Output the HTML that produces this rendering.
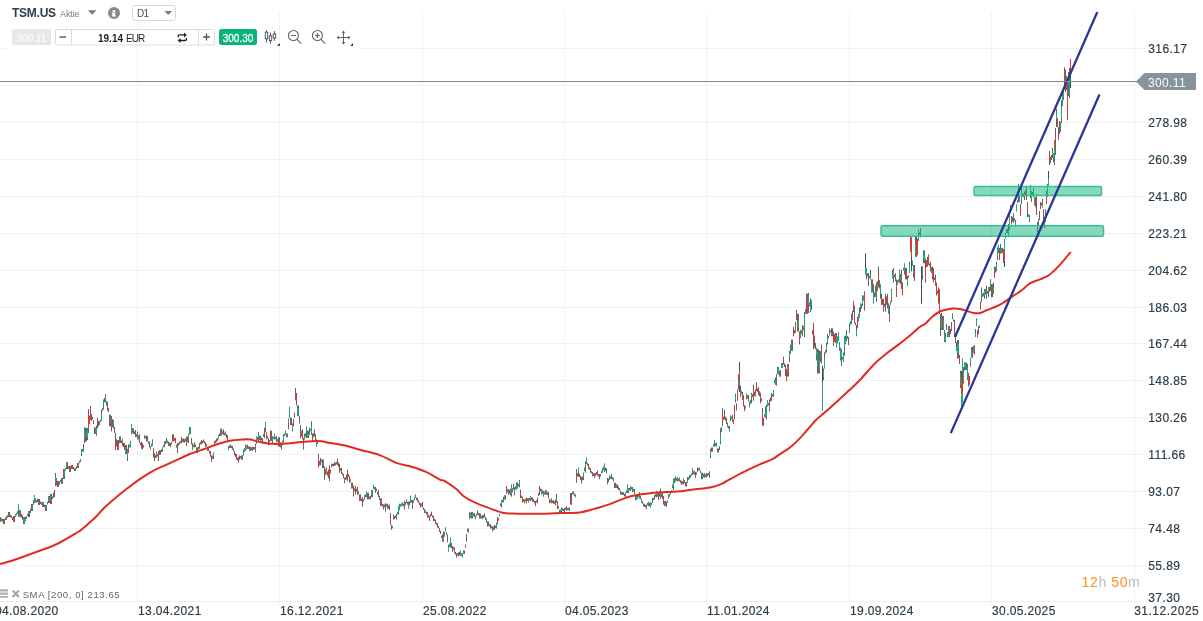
<!DOCTYPE html>
<html><head><meta charset="utf-8"><title>TSM.US</title>
<style>
html,body{margin:0;padding:0;background:#fff;}
body{width:1203px;height:621px;position:relative;overflow:hidden;font-family:"Liberation Sans",sans-serif;color:#2d3e4a;}
#chart{position:absolute;left:0;top:0;}
.yl{position:absolute;left:1148.3px;font-size:12px;line-height:15px;letter-spacing:0.4px;color:#2d3e4a;white-space:nowrap;-webkit-text-stroke:0.2px #2d3e4a;}
.xl{position:absolute;top:604px;font-size:12px;line-height:15px;letter-spacing:0.35px;color:#2d3e4a;white-space:nowrap;-webkit-text-stroke:0.2px #2d3e4a;}
.tag{position:absolute;left:1148px;top:76.2px;font-size:12px;line-height:15px;letter-spacing:0.35px;color:#fff;}
.abs{position:absolute;white-space:nowrap;}
</style></head><body>
<svg id="chart" width="1203" height="621" viewBox="0 0 1203 621" shape-rendering="auto">
<defs><clipPath id="cc"><rect x="0" y="12" width="1134" height="589"/></clipPath></defs>
<path d="M0 48.5H6M360 48.5H1146" stroke="#f1f2f4"/>
<path d="M0 85.5H1146" stroke="#f1f2f4"/>
<path d="M0 122.5H1146" stroke="#f1f2f4"/>
<path d="M0 159.5H1146" stroke="#f1f2f4"/>
<path d="M0 196.5H1146" stroke="#f1f2f4"/>
<path d="M0 233.5H1146" stroke="#f1f2f4"/>
<path d="M0 270.5H1146" stroke="#f1f2f4"/>
<path d="M0 307.5H1146" stroke="#f1f2f4"/>
<path d="M0 343.5H1146" stroke="#f1f2f4"/>
<path d="M0 380.5H1146" stroke="#f1f2f4"/>
<path d="M0 417.5H1146" stroke="#f1f2f4"/>
<path d="M0 454.5H1146" stroke="#f1f2f4"/>
<path d="M0 491.5H1146" stroke="#f1f2f4"/>
<path d="M0 528.5H1146" stroke="#f1f2f4"/>
<path d="M0 565.5H1146" stroke="#f1f2f4"/>
<path d="M137.5 12V605" stroke="#f1f2f4"/>
<path d="M279.5 12V605" stroke="#f1f2f4"/>
<path d="M422.5 12V605" stroke="#f1f2f4"/>
<path d="M564.5 12V605" stroke="#f1f2f4"/>
<path d="M706.5 12V605" stroke="#f1f2f4"/>
<path d="M849.5 12V605" stroke="#f1f2f4"/>
<path d="M991.5 12V605" stroke="#f1f2f4"/>
<path d="M1134.5 12V605" stroke="#f1f2f4"/>
<path d="M0 601.5H1140" stroke="#eceff1"/>
<path d="M0.5 517.0V522.0M1.5 518.4V521.0M2.5 518.8V521.8M3.5 519.0V524.0M4.5 519.0V524.0M5.5 517.5V520.0M6.5 516.3V519.7M7.5 515.3V517.8M8.5 512.0V517.0M9.5 512.0V517.0M10.5 514.8V517.3M11.5 515.6V518.1M12.5 517.5V520.0M13.5 516.0V522.0M14.5 516.0V522.0M15.5 514.0V516.9M16.5 512.8V515.3M17.5 511.3V513.8M18.5 504.0V517.0M19.5 510.0V516.2M20.5 510.4V517.3M21.5 514.0V517.4M22.5 515.4V519.6M23.5 517.0V524.0M24.5 517.0V524.0M25.5 516.7V521.2M26.5 516.3V518.8M27.5 513.5V516.0M28.5 511.0V517.0M29.5 511.0V517.0M30.5 508.8V512.9M31.5 504.0V511.0M32.5 504.0V511.0M33.5 499.9V504.6M34.5 495.0V503.0M35.5 498.3V502.4M36.5 500.1V502.7M37.5 498.8V502.0M38.5 499.0V505.0M39.5 499.0V505.0M40.5 501.4V503.9M41.5 502.4V504.9M42.5 502.0V507.0M43.5 502.0V507.0M44.5 504.5V507.0M45.5 505.0V511.0M46.5 505.0V511.0M47.5 501.7V504.5M48.5 496.0V503.0M49.5 496.0V503.0M50.5 494.0V504.0M51.5 494.0V504.0M52.5 496.5V499.0M53.5 492.5V497.8M54.5 490.0V497.0M55.5 473.0V486.0M56.5 478.1V485.4M57.5 481.0V487.0M58.5 481.0V487.0M59.5 481.3V484.6M60.5 479.8V482.3M61.5 478.0V484.0M62.5 478.0V484.0M63.5 469.0V479.0M64.5 469.0V479.0M65.5 468.0V470.5M66.5 462.0V469.0M67.5 462.0V469.0M68.5 466.4V468.9M69.5 466.0V472.0M70.5 466.0V472.0M71.5 465.0V469.0M72.5 465.0V469.0M73.5 466.8V469.3M74.5 468.0V471.0M75.5 468.0V471.0M76.5 466.2V468.7M77.5 463.0V468.0M78.5 463.0V468.0M79.5 460.7V463.2M80.5 459.0V462.0M81.5 449.0V456.0M82.5 449.0V451.6M83.5 444.0V452.0M84.5 427.0V443.0M85.5 428.0V441.5M86.5 428.0V441.5M87.5 428.0V440.0M88.5 409.0V433.0M89.5 415.6V424.2M90.5 406.0V420.0M91.5 414.0V421.0M92.5 416.8V419.3M93.5 420.0V424.0M94.5 427.0V434.0M95.5 427.8V433.8M96.5 425.6V435.7M97.5 418.0V428.5M98.5 420.8V426.4M99.5 421.0V425.0M100.5 419.7V422.2M101.5 409.6V421.0M102.5 407.9V410.8M103.5 399.5V409.6M104.5 398.1V402.1M105.5 394.4V402.4M106.5 400.9V405.6M107.5 401.7V410.4M108.5 408.0V412.0M109.5 414.7V426.3M110.5 414.7V426.3M111.5 416.0V431.4M112.5 419.2V427.3M113.5 420.0V428.5M114.5 427.0V433.0M115.5 432.8V450.2M116.5 439.2V446.4M117.5 440.0V450.0M118.5 440.0V450.0M119.5 436.4V443.0M120.5 436.4V443.0M121.5 440.5V443.0M122.5 438.6V445.9M123.5 442.9V447.1M124.5 443.0V450.0M125.5 445.0V454.0M126.5 445.0V454.0M127.5 448.8V461.0M128.5 444.4V453.0M129.5 444.5V447.4M130.5 440.8V447.3M131.5 424.0V434.3M132.5 428.0V432.7M133.5 428.5V434.3M134.5 431.4V433.9M135.5 430.0V437.0M136.5 434.4V436.9M137.5 431.4V439.3M138.5 435.4V439.4M139.5 434.3V443.0M140.5 442.8V445.3M141.5 441.5V448.8M142.5 443.0V449.5M143.5 445.1V447.6M144.5 435.0V438.6M145.5 436.1V438.6M146.5 435.7V441.5M147.5 435.7V441.5M148.5 441.4V443.9M149.5 441.5V447.3M150.5 445.9V449.5M151.5 443.7V446.4M152.5 439.3V445.9M153.5 448.0V457.5M154.5 453.0V461.0M155.5 455.3V458.0M156.5 451.7V457.5M157.5 453.9V456.4M158.5 451.0V461.0M159.5 450.2V454.6M160.5 450.2V454.6M161.5 449.6V452.1M162.5 447.3V451.7M163.5 444.7V447.2M164.5 441.5V447.3M165.5 440.9V444.3M166.5 437.9V443.0M167.5 440.5V443.3M168.5 441.5V445.9M169.5 442.5V445.9M170.5 443.0V447.3M171.5 441.9V444.4M172.5 434.3V441.5M173.5 434.3V441.5M174.5 438.2V440.7M175.5 437.9V443.0M176.5 444.7V447.8M177.5 443.0V453.0M178.5 443.0V445.9M179.5 441.8V444.3M180.5 440.9V443.4M181.5 437.0V443.0M182.5 438.8V442.1M183.5 438.6V442.2M184.5 439.1V442.6M185.5 438.5V441.3M186.5 436.4V445.9M187.5 436.5V442.2M188.5 433.6V443.0M189.5 427.0V434.3M190.5 427.0V434.3M191.5 437.9V444.4M192.5 443.0V450.2M193.5 444.8V447.3M194.5 442.2V447.3M195.5 444.4V447.0M196.5 447.3V453.0M197.5 447.3V453.0M198.5 446.8V449.3M199.5 443.0V448.8M200.5 441.7V444.2M201.5 440.0V444.4M202.5 440.8V443.3M203.5 439.4V442.3M204.5 441.1V443.6M205.5 442.3V446.7M206.5 443.9V446.4M207.5 446.7V451.0M208.5 446.7V451.0M209.5 450.9V453.6M210.5 451.0V456.8M211.5 455.4V461.9M212.5 455.7V458.9M213.5 452.5V459.0M214.5 440.9V444.5M215.5 440.5V443.0M216.5 438.7V442.3M217.5 438.2V440.7M218.5 435.0V439.4M219.5 433.5V436.0M220.5 428.6V435.8M221.5 428.6V435.8M222.5 431.3V433.8M223.5 429.3V435.0M224.5 432.7V435.2M225.5 431.4V435.8M226.5 434.4V437.9M227.5 435.0V440.9M228.5 446.0V450.3M229.5 445.4V447.9M230.5 444.5V448.0M231.5 445.7V448.2M232.5 446.0V449.6M233.5 448.6V451.1M234.5 451.0V455.4M235.5 453.5V457.0M236.5 454.0V459.7M237.5 457.8V460.3M238.5 456.8V462.6M239.5 455.4V459.7M240.5 455.9V458.4M241.5 455.4V459.7M242.5 455.4V459.7M243.5 449.6V455.4M244.5 448.3V452.0M245.5 444.5V451.0M246.5 445.6V449.3M247.5 444.5V448.8M248.5 446.3V448.8M249.5 446.7V451.0M250.5 446.7V451.0M251.5 447.5V450.0M252.5 446.7V451.0M253.5 447.0V449.5M254.5 447.1V449.6M255.5 443.8V452.5M256.5 436.5V443.8M257.5 437.2V439.7M258.5 432.2V440.9M259.5 435.5V439.9M260.5 435.8V440.9M261.5 437.9V440.4M262.5 438.0V443.8M263.5 433.8V436.7M264.5 427.8V438.0M265.5 422.0V432.2M266.5 432.2V439.4M267.5 436.1V438.6M268.5 438.0V445.2M269.5 439.8V442.3M270.5 430.7V440.9M271.5 430.7V440.9M272.5 436.0V443.0M273.5 436.7V439.2M274.5 433.6V439.4M275.5 436.7V439.2M276.5 436.0V442.0M277.5 439.2V441.7M278.5 437.2V446.7M279.5 437.2V446.7M280.5 442.4V447.4M281.5 443.8V449.6M282.5 440.8V445.1M283.5 434.3V442.3M284.5 433.5V436.1M285.5 430.7V435.0M286.5 433.6V437.2M287.5 433.6V437.2M288.5 418.4V429.3M289.5 406.8V417.7M290.5 417.7V425.0M291.5 417.7V425.0M292.5 423.5V431.4M293.5 419.0V426.4M294.5 412.6V417.7M295.5 388.0V400.3M296.5 393.0V405.4M297.5 405.4V416.2M298.5 405.4V416.2M299.5 416.2V423.5M300.5 425.0V438.0M301.5 430.8V436.4M302.5 429.3V439.4M303.5 438.0V449.6M304.5 433.6V439.4M305.5 433.1V436.9M306.5 426.4V438.0M307.5 430.7V438.0M308.5 430.7V438.0M309.5 427.8V435.0M310.5 428.6V431.1M311.5 421.3V435.0M312.5 433.6V440.9M313.5 433.2V437.3M314.5 429.3V436.5M315.5 434.3V440.9M316.5 439.4V446.7M317.5 441.7V444.2M318.5 453.7V467.5M319.5 461.0V465.2M320.5 458.0V465.3M321.5 459.3V462.4M322.5 459.5V468.2M323.5 459.5V468.2M324.5 466.7V479.8M325.5 469.2V474.9M326.5 467.5V474.0M327.5 471.6V475.6M328.5 469.6V478.3M329.5 465.3V481.2M330.5 469.7V473.4M331.5 463.8V467.5M332.5 463.6V466.1M333.5 463.8V466.3M334.5 461.7V466.0M335.5 462.7V465.2M336.5 461.8V464.3M337.5 458.8V465.3M338.5 462.5V466.9M339.5 463.8V472.5M340.5 468.1V470.6M341.5 468.0V474.0M342.5 472.8V475.3M343.5 474.0V478.3M344.5 477.6V483.4M345.5 477.2V479.7M346.5 474.4V479.6M347.5 469.6V481.2M348.5 473.9V476.9M349.5 476.2V482.7M350.5 479.2V481.9M351.5 482.7V488.5M352.5 482.7V488.5M353.5 485.6V496.4M354.5 488.4V491.2M355.5 485.6V494.3M356.5 488.9V491.4M357.5 487.0V495.0M358.5 491.1V494.0M359.5 494.3V500.8M360.5 494.3V500.8M361.5 498.7V501.3M362.5 497.2V506.6M363.5 499.0V501.5M364.5 495.0V499.3M365.5 494.4V496.9M366.5 491.4V497.2M367.5 492.8V499.3M368.5 492.8V499.3M369.5 496.5V499.0M370.5 495.7V499.3M371.5 490.0V497.2M372.5 490.0V497.2M373.5 484.9V489.2M374.5 486.9V489.5M375.5 487.0V492.8M376.5 488.6V491.1M377.5 491.9V494.4M378.5 490.0V497.2M379.5 495.7V500.0M380.5 498.6V505.9M381.5 498.6V505.9M382.5 503.9V506.5M383.5 504.4V509.5M384.5 504.5V507.4M385.5 503.0V511.7M386.5 504.1V506.6M387.5 503.7V508.8M388.5 505.5V508.6M389.5 504.4V510.2M390.5 513.0V524.7M391.5 524.7V529.8M392.5 525.8V528.3M393.5 514.6V519.6M394.5 516.1V518.9M395.5 515.5V518.0M396.5 513.8V519.6M397.5 511.9V514.4M398.5 505.9V514.6M399.5 503.7V510.2M400.5 504.2V506.7M401.5 503.3V505.8M402.5 502.2V505.9M403.5 503.8V506.3M404.5 500.8V509.5M405.5 502.1V504.7M406.5 499.3V503.0M407.5 501.7V504.6M408.5 501.5V508.8M409.5 501.5V505.4M410.5 495.7V503.0M411.5 499.8V502.3M412.5 500.0V508.8M413.5 499.9V502.9M414.5 496.8V500.3M415.5 494.3V497.9M416.5 497.5V500.0M417.5 497.9V501.5M418.5 500.4V502.9M419.5 502.5V505.0M420.5 503.0V507.3M421.5 503.7V506.2M422.5 502.2V507.3M423.5 507.5V510.0M424.5 508.8V513.1M425.5 510.4V512.9M426.5 512.1V514.6M427.5 511.7V517.5M428.5 515.0V517.5M429.5 516.0V521.0M430.5 514.0V516.5M431.5 511.7V516.0M432.5 515.2V517.7M433.5 516.0V521.0M434.5 518.8V521.3M435.5 519.6V524.0M436.5 522.4V524.9M437.5 523.3V527.6M438.5 525.9V528.4M439.5 528.3V532.0M440.5 530.7V533.9M441.5 535.5V538.0M442.5 534.4V541.7M443.5 531.5V541.7M444.5 532.0V536.8M445.5 527.2V531.5M446.5 532.3V534.8M447.5 534.4V542.4M448.5 544.6V551.8M449.5 543.5V547.1M450.5 537.3V547.5M451.5 542.9V548.1M452.5 546.0V551.8M453.5 547.1V549.6M454.5 547.5V553.3M455.5 552.0V554.5M456.5 553.3V557.6M457.5 553.0V555.5M458.5 552.5V556.2M459.5 551.9V555.3M460.5 550.4V556.2M461.5 553.2V555.7M462.5 553.3V557.6M463.5 550.4V554.0M464.5 550.4V554.0M465.5 544.6V547.5M466.5 534.4V541.7M467.5 528.6V532.2M468.5 528.6V532.2M469.5 512.0V519.2M470.5 512.9V517.8M471.5 512.0V518.5M472.5 512.0V518.5M473.5 513.4V516.0M474.5 513.0V517.0M475.5 515.6V519.2M476.5 513.7V516.2M477.5 510.5V514.9M478.5 512.7V515.2M479.5 513.4V518.5M480.5 513.4V518.5M481.5 515.9V518.4M482.5 514.9V519.2M483.5 515.1V517.6M484.5 513.4V517.8M485.5 517.3V519.8M486.5 518.5V522.8M487.5 521.4V526.4M488.5 521.4V526.4M489.5 523.8V526.3M490.5 524.3V528.6M491.5 525.9V528.4M492.5 526.4V531.5M493.5 526.5V529.8M494.5 525.0V530.0M495.5 525.7V528.2M496.5 522.8V528.6M497.5 517.0V524.3M498.5 518.1V520.6M499.5 513.9V516.4M500.5 503.5V506.0M501.5 500.4V507.6M502.5 499.7V502.2M503.5 496.7V502.5M504.5 495.3V499.6M505.5 495.3V499.6M506.5 485.9V493.8M507.5 489.6V492.1M508.5 488.8V494.6M509.5 489.7V493.7M510.5 488.8V495.3M511.5 484.4V496.7M512.5 488.1V492.2M513.5 483.7V489.5M514.5 487.3V495.3M515.5 486.0V489.6M516.5 482.2V489.5M517.5 482.5V488.5M518.5 483.8V486.3M519.5 480.0V487.3M520.5 489.5V498.2M521.5 495.5V498.0M522.5 496.7V502.5M523.5 499.2V501.7M524.5 499.6V503.3M525.5 498.7V501.2M526.5 497.5V503.3M527.5 498.4V500.9M528.5 498.2V502.5M529.5 498.0V500.5M530.5 496.0V501.0M531.5 497.4V499.9M532.5 497.5V501.8M533.5 499.2V501.9M534.5 500.7V503.3M535.5 501.0V506.2M536.5 500.1V502.6M537.5 497.5V503.3M538.5 492.8V495.7M539.5 485.9V495.3M540.5 488.7V491.2M541.5 488.8V494.6M542.5 490.4V493.9M543.5 491.0V496.7M544.5 491.6V494.7M545.5 490.2V494.6M546.5 490.2V494.6M547.5 492.6V495.1M548.5 491.7V498.2M549.5 498.9V503.3M550.5 499.9V502.4M551.5 498.2V503.3M552.5 500.5V503.0M553.5 500.4V504.0M554.5 501.1V503.6M555.5 499.6V505.4M556.5 493.8V502.5M557.5 501.0V509.0M558.5 506.2V508.7M559.5 509.8V514.1M560.5 509.6V512.1M561.5 507.6V512.0M562.5 508.1V510.6M563.5 508.8V511.3M564.5 508.3V512.0M565.5 507.4V509.9M566.5 506.2V510.5M567.5 507.8V510.3M568.5 507.7V510.2M569.5 507.5V511.0M570.5 493.0V504.6M571.5 493.0V504.6M572.5 491.5V494.4M573.5 491.5V494.4M574.5 493.6V496.1M575.5 494.4V497.3M576.5 469.0V482.8M577.5 473.3V476.4M578.5 467.6V477.0M579.5 473.8V476.8M580.5 475.6V480.0M581.5 477.0V483.5M582.5 476.3V480.4M583.5 472.7V480.0M584.5 467.4V471.1M585.5 461.0V472.7M586.5 457.5V464.0M587.5 463.1V465.6M588.5 464.0V469.0M589.5 467.3V469.8M590.5 468.3V472.7M591.5 471.0V473.5M592.5 472.0V476.3M593.5 473.4V475.9M594.5 472.7V477.8M595.5 473.3V476.1M596.5 472.0V474.5M597.5 470.5V475.6M598.5 474.0V476.5M599.5 474.0V479.2M600.5 474.0V476.5M601.5 470.7V473.2M602.5 468.3V472.7M603.5 466.6V470.1M604.5 463.3V472.0M605.5 467.8V471.0M606.5 468.3V473.4M607.5 477.8V484.3M608.5 478.4V482.1M609.5 475.6V480.0M610.5 476.3V478.8M611.5 474.0V479.2M612.5 476.9V479.4M613.5 477.8V481.4M614.5 482.8V488.0M615.5 482.8V488.0M616.5 484.4V487.9M617.5 484.3V488.6M618.5 486.4V490.0M619.5 488.2V490.7M620.5 490.8V494.4M621.5 492.0V494.5M622.5 492.2V495.0M623.5 492.2V495.0M624.5 493.8V496.3M625.5 492.2V497.3M626.5 490.5V493.0M627.5 484.3V493.0M628.5 488.0V493.0M629.5 488.0V490.5M630.5 485.7V490.8M631.5 487.0V489.5M632.5 487.0V492.2M633.5 488.8V491.7M634.5 489.0V494.0M635.5 495.9V500.2M636.5 495.9V500.2M637.5 494.4V498.8M638.5 494.6V497.1M639.5 492.2V498.8M640.5 495.8V499.2M641.5 498.8V503.0M642.5 501.3V503.8M643.5 503.8V506.7M644.5 503.8V506.7M645.5 504.9V507.4M646.5 504.6V509.0M647.5 502.8V505.3M648.5 501.7V506.0M649.5 502.9V506.3M650.5 502.4V507.5M651.5 502.5V505.0M652.5 498.0V503.0M653.5 497.8V500.3M654.5 495.0V499.5M655.5 494.1V496.6M656.5 490.8V497.3M657.5 493.6V496.4M658.5 493.0V500.2M659.5 491.7V496.8M660.5 488.6V498.8M661.5 493.6V497.1M662.5 493.0V498.8M663.5 495.9V504.6M664.5 501.0V506.0M665.5 501.0V506.0M666.5 501.7V506.7M667.5 500.3V502.8M668.5 494.4V498.8M669.5 494.2V496.7M670.5 492.0V494.5M671.5 490.5V493.0M672.5 484.4V488.2M673.5 478.5V490.0M674.5 478.2V483.1M675.5 476.3V481.4M676.5 478.1V480.6M677.5 477.0V481.4M678.5 478.6V481.1M679.5 477.5V481.5M680.5 480.4V482.9M681.5 480.7V485.0M682.5 481.4V483.9M683.5 478.5V484.3M684.5 480.2V483.0M685.5 482.0V486.4M686.5 482.0V486.4M687.5 477.0V482.8M688.5 477.3V479.8M689.5 474.9V479.2M690.5 475.3V477.8M691.5 473.3V475.8M692.5 468.3V474.9M693.5 471.3V474.1M694.5 470.5V474.9M695.5 472.0V477.8M696.5 472.3V474.8M697.5 467.6V472.0M698.5 467.9V470.4M699.5 467.6V470.5M700.5 470.3V472.8M701.5 472.7V479.2M702.5 472.7V479.2M703.5 473.8V477.3M704.5 473.4V477.8M705.5 474.4V476.9M706.5 473.0V477.5M707.5 473.5V476.4M708.5 473.0V475.5M709.5 471.2V477.8M710.5 449.0V458.0M711.5 447.5V451.6M712.5 447.5V451.6M713.5 444.2V446.7M714.5 440.3V446.7M715.5 443.1V445.6M716.5 442.7V446.7M717.5 448.4V452.4M718.5 448.4V452.4M719.5 446.0V450.0M720.5 428.2V444.3M721.5 426.8V431.8M722.5 408.0V425.8M723.5 416.7V419.6M724.5 409.7V419.4M725.5 416.5V420.8M726.5 417.8V424.2M727.5 422.6V427.4M728.5 426.1V428.6M729.5 425.8V431.5M730.5 415.4V421.0M731.5 416.5V419.0M732.5 414.6V421.8M733.5 419.4V424.2M734.5 404.9V419.4M735.5 393.6V402.5M736.5 403.3V410.5M737.5 389.6V400.9M738.5 374.3V389.6M739.5 362.2V392.0M740.5 385.6V396.8M741.5 390.5V394.2M742.5 392.0V400.0M743.5 395.2V406.5M744.5 404.9V411.3M745.5 406.2V408.7M746.5 393.6V399.3M747.5 395.0V398.6M748.5 395.2V401.7M749.5 401.7V407.3M750.5 399.8V403.7M751.5 392.8V403.3M752.5 394.1V397.1M753.5 384.8V400.9M754.5 391.8V395.8M755.5 389.6V396.8M756.5 382.4V391.2M757.5 388.3V391.6M758.5 387.2V395.2M759.5 391.2V396.3M760.5 392.8V403.3M761.5 398.5V401.2M762.5 408.0V425.8M763.5 417.8V425.8M764.5 414.2V416.7M765.5 406.5V417.8M766.5 404.9V419.4M767.5 400.0V406.5M768.5 402.9V405.4M769.5 399.3V411.3M770.5 397.4V401.4M771.5 392.8V400.9M772.5 394.0V396.5M773.5 390.4V396.8M774.5 379.9V383.3M775.5 377.5V384.8M776.5 374.3V385.6M777.5 367.0V374.3M778.5 367.0V374.3M779.5 370.3V376.7M780.5 370.3V376.7M781.5 363.0V367.9M782.5 363.0V367.9M783.5 356.6V364.7M784.5 363.4V367.0M785.5 364.7V376.0M786.5 369.0V381.0M787.5 364.0V376.6M788.5 364.0V376.6M789.5 350.8V362.0M790.5 344.4V354.0M791.5 339.6V350.8M792.5 339.6V350.8M793.5 326.7V336.3M794.5 329.8V333.6M795.5 321.8V333.0M796.5 309.8V320.2M797.5 313.8V331.5M798.5 313.8V331.5M799.5 331.5V344.4M800.5 330.0V338.0M801.5 330.4V333.8M802.5 325.0V336.3M803.5 325.9V330.4M804.5 312.2V337.0M805.5 309.0V313.8M806.5 293.7V313.8M807.5 293.7V313.8M808.5 292.9V313.0M809.5 302.3V306.4M810.5 298.5V312.2M811.5 300.0V309.8M812.5 330.1V334.7M813.5 322.7V349.2M814.5 335.5V347.6M815.5 342.9V349.4M816.5 347.6V360.5M817.5 349.2V373.4M818.5 349.2V373.4M819.5 350.8V373.4M820.5 351.2V361.9M821.5 344.4V363.7M822.5 366.0V411.0M823.5 368.5V380.0M824.5 352.4V368.5M825.5 350.0V353.5M826.5 342.8V352.4M827.5 333.9V344.4M828.5 336.0V338.5M829.5 328.3V335.5M830.5 330.1V332.6M831.5 328.3V336.3M832.5 328.3V336.3M833.5 331.5V346.0M834.5 334.2V341.8M835.5 333.0V342.8M836.5 333.0V347.6M837.5 336.5V343.3M838.5 332.3V341.2M839.5 342.0V350.8M840.5 347.6V360.5M841.5 349.2V366.0M842.5 357.0V359.5M843.5 352.4V362.0M844.5 336.3V355.6M845.5 335.7V344.2M846.5 330.0V341.2M847.5 336.1V338.9M848.5 337.0V345.2M849.5 323.5V333.0M850.5 321.0V324.5M851.5 313.8V324.3M852.5 310.6V320.2M853.5 300.9V312.2M854.5 305.8V323.5M855.5 322.6V325.2M856.5 325.0V336.3M857.5 317.0V328.3M858.5 313.8V321.5M859.5 307.4V317.8M860.5 303.3V312.2M861.5 304.2V308.7M862.5 295.3V305.8M863.5 295.6V300.6M864.5 291.3V310.6M865.5 253.6V274.6M866.5 268.0V279.4M867.5 273.6V276.7M868.5 273.0V285.8M869.5 275.7V278.2M870.5 269.7V279.4M871.5 279.4V292.3M872.5 279.4V292.3M873.5 284.2V303.5M874.5 292.3V297.2M875.5 285.8V297.0M876.5 282.6V302.0M877.5 281.1V290.8M878.5 266.5V287.4M879.5 280.0V288.6M880.5 284.2V298.7M881.5 293.9V305.0M882.5 299.1V304.7M883.5 298.7V311.6M884.5 303.8V306.7M885.5 293.9V311.6M886.5 296.3V304.8M887.5 293.9V308.4M888.5 303.3V313.7M889.5 305.0V322.0M890.5 301.4V304.7M891.5 289.0V302.0M892.5 269.7V278.6M893.5 268.0V282.6M894.5 274.7V277.2M895.5 273.0V281.0M896.5 279.4V297.0M897.5 280.2V284.7M898.5 279.5V282.2M899.5 269.7V282.6M900.5 274.1V284.1M901.5 269.7V289.0M902.5 282.6V295.5M903.5 267.9V270.6M904.5 263.3V274.6M905.5 268.0V279.4M906.5 268.0V279.4M907.5 276.0V285.8M908.5 275.1V277.7M909.5 261.7V273.0M910.5 236.0V252.0M911.5 237.5V271.3M912.5 260.6V265.6M913.5 265.0V277.8M914.5 265.0V281.0M915.5 236.0V256.8M916.5 236.0V256.8M917.5 239.0V255.2M918.5 229.5V240.8M919.5 232.3V234.8M920.5 227.9V237.5M921.5 266.5V303.5M922.5 266.5V279.4M923.5 250.4V263.3M924.5 250.4V263.3M925.5 258.5V282.6M926.5 260.1V267.4M927.5 256.8V266.5M928.5 254.4V264.9M929.5 263.6V266.1M930.5 261.7V271.3M931.5 267.0V272.8M932.5 266.5V279.4M933.5 268.0V282.6M934.5 277.5V280.0M935.5 274.6V285.8M936.5 282.6V295.5M937.5 290.5V293.7M938.5 287.4V303.5M939.5 289.0V314.0M940.5 314.0V336.0M941.5 313.0V330.0M942.5 316.0V330.0M943.5 316.0V330.0M944.5 330.0V342.0M945.5 333.0V342.4M946.5 324.0V330.0M947.5 332.0V337.0M948.5 326.0V337.0M949.5 326.0V337.0M950.5 329.0V334.0M951.5 322.0V331.0M952.5 313.5V319.0M953.5 319.1V321.6M954.5 320.0V337.0M955.5 337.0V343.0M956.5 342.0V351.0M957.5 340.0V358.5M958.5 340.0V358.5M959.5 355.0V364.0M960.5 370.6V388.0M961.5 371.0V406.0M962.5 358.5V403.0M963.5 367.0V383.5M964.5 362.5V370.6M965.5 362.5V370.0M966.5 362.5V370.0M967.5 364.0V380.0M968.5 373.0V386.7M969.5 375.9V384.9M970.5 357.7V366.6M971.5 347.0V357.7M972.5 347.0V357.7M973.5 346.4V353.0M974.5 345.0V354.5M975.5 329.0V337.0M976.5 318.4V326.0M977.5 330.0V337.4M978.5 326.0V334.0M979.5 325.4V327.9M980.5 301.5V309.5M981.5 287.4V302.0M982.5 293.7V296.8M983.5 292.7V296.3M984.5 289.0V298.7M985.5 288.8V294.5M986.5 285.8V298.7M987.5 291.2V293.7M988.5 287.0V297.0M989.5 286.9V291.8M990.5 279.4V290.7M991.5 284.2V297.0M992.5 284.2V297.0M993.5 282.6V294.0M994.5 266.5V277.8M995.5 267.0V272.6M996.5 261.7V271.3M997.5 247.2V260.0M998.5 245.0V253.0M999.5 248.0V260.0M1000.5 244.0V254.0M1001.5 248.0V253.0M1002.5 248.0V253.0M1003.5 249.0V263.0M1004.5 239.0V267.0M1005.5 233.0V238.0M1006.5 229.0V233.0M1007.5 229.0V233.0M1008.5 224.0V236.5M1009.5 213.0V230.0M1010.5 205.0V213.0M1011.5 216.0V224.4M1012.5 216.7V221.5M1013.5 213.0V223.0M1014.5 218.3V220.8M1015.5 220.0V226.0M1016.5 204.4V211.4M1017.5 200.4V203.1M1018.5 184.0V202.0M1019.5 195.0V202.0M1020.5 204.0V216.0M1021.5 188.0V204.0M1022.5 194.2V196.9M1023.5 193.0V197.0M1024.5 191.5V200.0M1025.5 190.2V194.5M1026.5 186.0V200.0M1027.5 202.0V217.0M1028.5 214.3V216.8M1029.5 215.0V222.0M1030.5 185.0V198.0M1031.5 191.0V202.0M1032.5 192.2V196.2M1033.5 188.0V197.0M1034.5 197.0V205.4M1035.5 197.4V207.2M1036.5 194.0V215.0M1037.5 222.0V232.0M1038.5 219.0V226.0M1039.5 211.0V220.0M1040.5 202.0V209.0M1041.5 202.9V205.4M1042.5 199.0V207.4M1043.5 209.4V219.0M1044.5 217.0V228.0M1045.5 209.4V222.0M1046.5 191.0V204.0M1047.5 184.0V197.0M1048.5 171.0V186.5M1049.5 151.0V165.0M1050.5 157.0V163.0M1051.5 155.0V160.0M1052.5 148.0V158.0M1053.5 153.0V162.0M1054.5 140.0V165.0M1055.5 128.0V155.0M1056.5 109.0V127.0M1057.5 118.0V127.0M1058.5 127.0V140.0M1059.5 121.0V134.0M1060.5 122.0V132.0M1061.5 100.0V123.0M1062.5 93.0V106.0M1063.5 88.0V100.0M1064.5 67.5V85.0M1065.5 69.5V92.0M1066.5 76.0V90.0M1067.5 83.0V120.0M1068.5 72.0V96.0M1069.5 68.0V98.0M1070.5 59.0V88.0" stroke="#3a4b57" stroke-width="0.85" fill="none"/>
<path d="M0.5 518.9V521.0M2.5 519.6V520.7M6.5 516.5V518.7M7.5 515.4V516.7M15.5 514.6V516.2M16.5 512.9V514.4M17.5 511.5V513.1M18.5 504.1V511.7M19.5 513.0V515.3M23.5 518.0V520.8M24.5 519.0V522.6M25.5 518.0V520.2M26.5 517.0V518.5M27.5 514.2V515.8M28.5 511.3V514.3M30.5 508.8V510.3M32.5 505.5V510.1M33.5 500.2V502.4M34.5 496.1V501.7M35.5 498.9V500.8M36.5 500.6V502.3M42.5 502.8V505.5M43.5 502.9V504.7M46.5 505.7V508.2M47.5 502.2V504.0M48.5 496.2V500.6M50.5 494.9V500.0M52.5 497.1V498.8M55.5 476.8V482.9M59.5 482.1V483.5M60.5 480.5V481.8M61.5 480.8V483.8M64.5 469.6V475.9M65.5 468.7V469.9M66.5 462.3V466.7M71.5 466.8V468.9M74.5 468.1V469.6M75.5 469.3V470.4M78.5 463.6V467.0M79.5 461.3V462.3M80.5 459.3V460.7M81.5 449.1V453.3M83.5 448.9V451.9M84.5 427.5V438.6M86.5 431.4V436.8M87.5 429.1V436.8M95.5 428.8V431.5M96.5 428.4V432.9M99.5 421.1V423.8M100.5 420.1V421.7M101.5 414.2V420.9M102.5 408.4V410.1M103.5 400.3V404.1M105.5 396.3V401.5M106.5 401.2V403.7M110.5 417.5V423.2M113.5 421.1V425.0M119.5 438.5V441.1M122.5 439.2V441.9M125.5 447.5V453.2M127.5 450.0V457.4M129.5 445.0V446.6M130.5 442.8V446.7M131.5 424.3V430.3M133.5 429.5V431.6M137.5 434.2V439.2M138.5 435.7V438.4M144.5 435.0V437.3M145.5 436.6V438.3M148.5 441.5V442.5M150.5 446.9V448.5M151.5 444.5V446.3M152.5 441.4V445.8M156.5 452.6V455.3M157.5 454.2V455.7M162.5 448.0V449.6M163.5 445.1V446.7M164.5 442.5V445.6M166.5 439.8V442.7M167.5 441.1V442.5M171.5 442.1V443.8M176.5 445.8V447.2M178.5 443.5V445.1M180.5 441.1V442.4M185.5 438.8V440.2M187.5 439.5V442.0M188.5 434.8V438.7M189.5 429.9V434.1M190.5 427.8V431.4M192.5 446.3V449.8M193.5 445.0V446.7M196.5 448.3V450.3M198.5 447.6V449.2M199.5 444.7V446.9M207.5 447.9V449.7M212.5 456.1V457.3M213.5 452.7V455.6M215.5 440.6V441.7M217.5 438.9V440.3M218.5 436.0V438.9M220.5 429.6V432.7M221.5 432.4V435.3M225.5 432.2V433.8M228.5 447.5V450.2M229.5 446.0V447.0M231.5 446.3V447.1M240.5 456.3V458.0M241.5 456.9V458.5M243.5 451.1V453.9M244.5 448.4V450.9M245.5 446.8V450.9M246.5 446.1V448.7M249.5 448.6V450.7M251.5 447.9V448.8M255.5 446.7V451.0M256.5 436.6V440.3M258.5 434.6V438.2M263.5 434.7V436.4M265.5 422.6V429.4M267.5 436.3V438.0M272.5 436.3V440.7M273.5 437.1V438.8M274.5 433.8V437.6M277.5 439.3V440.8M280.5 444.3V446.3M282.5 440.8V442.4M283.5 436.1V439.1M284.5 434.5V435.6M285.5 433.1V434.8M286.5 433.8V435.3M288.5 418.5V423.3M289.5 408.5V414.5M292.5 425.0V429.2M297.5 407.2V412.1M298.5 408.3V415.4M301.5 430.9V433.3M304.5 435.9V438.8M305.5 433.3V435.9M306.5 428.3V432.5M307.5 433.4V437.8M309.5 431.5V434.6M310.5 429.0V430.7M311.5 426.1V434.2M313.5 435.5V437.1M316.5 442.6V445.3M317.5 442.6V443.6M321.5 460.4V462.2M323.5 460.2V465.5M325.5 470.2V472.9M326.5 470.1V473.5M331.5 465.0V466.3M334.5 461.9V464.2M336.5 462.9V464.1M342.5 473.8V475.1M345.5 477.4V478.5M346.5 475.4V477.5M350.5 479.8V481.0M351.5 485.0V487.9M354.5 489.2V490.6M358.5 492.2V493.7M363.5 500.2V501.2M364.5 495.2V497.5M365.5 495.1V496.5M366.5 492.5V495.6M369.5 497.0V498.1M371.5 491.0V494.4M372.5 492.6V497.0M373.5 486.9V488.7M374.5 487.7V489.3M376.5 489.5V490.9M377.5 492.0V493.4M379.5 496.3V498.3M384.5 504.6V506.4M386.5 504.2V505.3M387.5 505.9V508.2M392.5 526.2V527.9M395.5 516.9V517.8M396.5 515.5V518.7M397.5 511.9V513.6M398.5 506.0V511.0M399.5 506.2V510.0M400.5 505.3V506.6M401.5 504.5V505.7M402.5 503.1V505.1M406.5 499.8V502.1M408.5 504.1V508.5M409.5 502.0V503.4M410.5 497.8V501.9M413.5 500.0V501.8M414.5 497.5V499.9M415.5 495.3V497.6M418.5 501.7V502.7M424.5 510.8V512.3M425.5 511.6V512.6M432.5 515.5V517.1M435.5 522.3V523.9M443.5 535.3V541.3M444.5 532.3V535.4M445.5 527.5V530.4M448.5 546.6V551.2M449.5 544.1V546.5M450.5 538.2V543.8M453.5 548.1V549.1M455.5 553.6V554.5M457.5 553.7V555.4M460.5 551.3V555.1M461.5 553.6V555.0M462.5 553.6V556.6M463.5 551.9V553.9M467.5 529.7V532.1M469.5 515.0V519.2M470.5 514.0V517.3M472.5 512.9V515.9M475.5 517.7V519.0M476.5 513.9V515.5M477.5 513.0V514.7M480.5 515.7V517.6M483.5 516.3V517.4M485.5 517.6V518.9M486.5 519.4V521.2M488.5 523.9V526.1M489.5 523.8V525.5M493.5 526.7V528.7M496.5 523.3V526.5M498.5 519.2V520.4M499.5 513.9V515.2M500.5 503.7V504.8M501.5 501.0V504.5M503.5 499.2V501.5M504.5 495.8V498.6M509.5 490.0V491.4M511.5 487.3V494.1M512.5 488.1V490.6M514.5 489.3V492.4M515.5 487.2V488.7M516.5 485.8V488.7M517.5 483.8V486.7M518.5 484.5V486.2M519.5 481.4V484.6M525.5 499.2V500.9M529.5 498.3V500.0M530.5 496.3V499.1M536.5 500.5V501.8M541.5 489.7V493.5M543.5 492.3V496.2M544.5 492.4V494.2M545.5 491.0V493.8M551.5 499.3V501.9M554.5 501.3V502.5M556.5 497.7V501.8M558.5 507.1V508.0M560.5 510.4V511.7M561.5 509.0V511.1M562.5 508.2V509.5M565.5 508.4V509.7M567.5 508.3V510.0M568.5 507.9V509.1M569.5 508.3V510.2M572.5 492.3V493.3M575.5 495.2V496.7M577.5 473.6V474.8M578.5 468.2V471.8M580.5 477.8V479.3M583.5 474.1V477.8M584.5 467.9V470.4M585.5 461.3V466.4M586.5 458.2V462.4M589.5 468.5V469.6M591.5 471.2V472.9M593.5 474.6V475.6M600.5 475.1V476.1M601.5 471.0V472.2M602.5 470.5V472.4M603.5 468.1V469.6M604.5 465.4V470.4M605.5 469.4V470.7M608.5 478.7V480.3M609.5 476.6V478.6M610.5 476.4V478.0M613.5 478.2V480.6M616.5 485.0V486.5M619.5 489.1V490.3M621.5 492.6V494.2M622.5 492.4V493.6M625.5 492.5V494.7M626.5 491.2V492.7M627.5 486.0V491.0M628.5 488.9V491.8M630.5 486.2V489.4M632.5 488.1V490.6M633.5 489.5V491.3M634.5 490.5V492.6M636.5 496.1V498.9M637.5 496.3V498.4M639.5 494.3V498.4M641.5 500.5V502.3M643.5 503.8V504.9M647.5 503.8V505.3M648.5 502.3V504.2M650.5 504.2V507.2M651.5 503.2V504.8M652.5 500.4V502.5M653.5 498.9V500.1M655.5 494.9V496.6M656.5 491.3V494.7M657.5 493.8V495.4M660.5 491.4V498.0M664.5 502.4V504.9M667.5 500.8V502.5M668.5 496.3V497.9M669.5 494.6V496.3M670.5 492.5V493.7M672.5 485.1V487.2M673.5 480.6V486.9M674.5 478.4V481.1M675.5 476.6V478.8M677.5 478.4V480.1M679.5 478.8V481.0M682.5 482.6V483.6M684.5 481.3V482.6M687.5 479.6V481.9M688.5 477.4V479.0M689.5 476.5V479.1M690.5 476.1V477.1M691.5 473.6V475.1M693.5 472.7V473.7M694.5 471.1V473.5M696.5 473.1V474.7M698.5 468.2V469.1M699.5 468.1V469.8M702.5 474.0V478.3M703.5 474.8V476.6M705.5 475.6V476.9M707.5 474.4V475.7M708.5 473.9V474.8M710.5 450.4V455.5M713.5 444.6V446.0M714.5 440.5V443.6M716.5 443.5V445.2M717.5 450.7V452.1M719.5 446.2V447.8M720.5 434.5V441.9M721.5 427.7V431.1M725.5 417.2V418.9M727.5 424.4V427.1M729.5 427.6V431.2M730.5 416.0V418.3M731.5 416.6V418.3M735.5 395.9V400.1M738.5 380.2V385.9M739.5 363.7V377.6M740.5 390.8V395.2M745.5 406.5V407.8M746.5 393.8V397.7M749.5 402.2V404.2M750.5 402.0V403.6M751.5 393.9V398.1M755.5 392.8V395.6M765.5 411.0V417.2M766.5 406.7V416.2M767.5 400.4V404.7M768.5 403.1V404.0M772.5 394.4V395.3M773.5 390.5V394.3M774.5 379.9V381.3M775.5 381.0V384.3M777.5 369.9V373.0M778.5 368.4V372.9M779.5 372.0V375.0M781.5 364.2V367.5M782.5 363.8V365.8M787.5 366.0V372.2M789.5 351.6V357.1M790.5 348.2V351.6M791.5 343.4V348.4M795.5 327.7V332.8M798.5 319.5V329.5M800.5 332.4V336.9M801.5 331.6V333.1M803.5 326.2V328.2M804.5 318.2V331.5M805.5 309.4V312.5M808.5 297.8V305.1M809.5 302.9V304.6M810.5 304.3V310.8M811.5 300.4V305.4M816.5 347.9V355.0M817.5 351.8V366.4M819.5 359.1V372.0M820.5 352.9V359.0M823.5 370.0V377.3M824.5 359.1V368.0M825.5 351.2V352.9M826.5 347.3V350.9M827.5 336.3V341.9M829.5 329.4V334.0M830.5 330.7V332.0M836.5 337.3V345.9M837.5 338.5V341.9M838.5 335.1V340.8M839.5 344.4V348.5M840.5 348.7V357.7M841.5 351.5V359.2M843.5 355.1V361.3M844.5 338.5V347.0M845.5 337.7V342.1M846.5 334.7V340.0M849.5 327.7V331.9M850.5 321.7V323.6M851.5 318.4V323.7M856.5 330.5V335.2M858.5 314.8V320.1M859.5 312.7V317.3M860.5 303.6V307.2M861.5 304.8V306.8M862.5 298.5V303.3M863.5 295.9V299.1M866.5 268.5V274.7M869.5 276.2V277.3M870.5 274.0V279.1M871.5 284.8V291.5M873.5 293.8V302.4M875.5 291.4V296.7M877.5 285.6V289.6M880.5 284.9V292.5M884.5 305.4V306.5M888.5 305.1V311.9M890.5 301.7V303.7M891.5 291.0V296.3M892.5 274.0V278.0M893.5 269.5V277.6M897.5 280.3V283.3M898.5 279.9V280.9M899.5 270.5V278.1M900.5 276.0V280.2M903.5 268.9V270.0M904.5 263.7V270.8M907.5 279.3V285.6M908.5 275.7V277.3M909.5 264.9V272.1M910.5 244.4V251.7M912.5 261.0V264.2M913.5 266.5V273.0M915.5 244.4V254.5M918.5 230.9V238.1M919.5 233.1V233.9M922.5 269.1V274.6M923.5 252.0V259.3M924.5 255.4V261.2M931.5 270.3V272.7M941.5 317.2V328.4M943.5 319.9V329.5M944.5 333.1V339.7M945.5 336.6V341.2M946.5 326.5V329.2M947.5 333.0V335.7M948.5 329.7V336.1M952.5 313.9V316.5M953.5 319.2V320.8M956.5 346.6V350.7M957.5 344.4V352.9M958.5 344.1V352.2M960.5 373.2V384.8M962.5 378.6V396.5M963.5 372.0V381.0M964.5 364.1V367.7M965.5 363.5V367.5M967.5 367.3V377.5M970.5 358.1V363.7M971.5 351.4V357.6M973.5 348.0V352.5M975.5 333.1V336.4M976.5 320.8V324.8M979.5 326.1V327.4M981.5 293.3V299.1M983.5 294.2V295.7M984.5 290.2V295.6M985.5 289.5V292.0M986.5 291.2V296.1M988.5 287.0V291.7M990.5 279.6V286.7M993.5 287.8V292.6M995.5 268.8V270.8M996.5 265.5V269.1M997.5 249.5V256.6M998.5 245.8V250.3M1000.5 249.3V253.9M1001.5 248.3V250.9M1004.5 242.0V254.6M1005.5 234.0V236.7M1007.5 230.3V232.5M1008.5 228.6V236.2M1009.5 217.9V228.1M1013.5 214.1V217.8M1015.5 222.8V225.2M1016.5 206.3V211.2M1017.5 200.6V201.7M1018.5 185.8V195.3M1019.5 199.1V201.6M1021.5 190.4V200.1M1023.5 193.0V194.9M1025.5 191.1V192.7M1028.5 214.5V215.8M1029.5 217.0V220.6M1030.5 187.3V195.1M1031.5 191.2V197.9M1032.5 192.6V195.0M1033.5 189.7V195.1M1034.5 198.7V204.3M1038.5 219.1V223.5M1042.5 204.0V207.3M1044.5 217.5V223.4M1045.5 213.3V221.6M1047.5 187.8V194.7M1048.5 171.4V181.2M1052.5 151.9V155.9M1053.5 153.5V158.0M1054.5 144.0V157.6M1056.5 113.1V120.0M1060.5 124.3V129.9M1061.5 107.1V118.5M1062.5 96.1V104.9M1063.5 91.3V99.4M1064.5 75.1V81.4M1066.5 78.0V87.5M1068.5 73.2V84.3M1069.5 74.0V94.8M1070.5 68.3V86.2" stroke="#12b57f" stroke-width="0.9" fill="none"/>
<path d="M1.5 519.3V520.2M3.5 519.7V521.6M4.5 519.9V523.3M5.5 517.8V519.4M8.5 514.0V516.1M9.5 513.6V515.9M10.5 515.0V516.5M11.5 515.8V517.4M12.5 517.7V519.2M13.5 518.6V520.7M14.5 518.4V521.7M20.5 510.6V515.1M21.5 515.1V517.3M22.5 516.8V519.6M29.5 511.3V513.5M31.5 505.6V508.3M37.5 500.3V502.0M38.5 499.6V503.2M39.5 501.7V504.2M40.5 502.5V503.6M41.5 503.1V504.7M44.5 505.6V506.9M45.5 505.7V509.8M49.5 497.8V502.5M51.5 498.3V502.9M53.5 493.9V497.4M54.5 492.5V497.0M56.5 479.7V483.9M57.5 483.6V486.6M58.5 481.9V484.4M62.5 479.5V482.7M63.5 469.9V474.9M67.5 463.1V466.2M68.5 467.3V468.8M69.5 467.3V470.7M70.5 467.1V470.7M72.5 466.3V468.9M73.5 466.9V468.5M76.5 466.8V468.3M77.5 464.6V467.9M82.5 449.8V451.1M85.5 434.7V439.6M88.5 413.5V429.6M89.5 417.1V422.2M90.5 408.9V418.4M91.5 417.7V420.4M92.5 417.5V418.7M93.5 420.3V422.1M94.5 427.4V430.5M97.5 418.1V423.1M98.5 421.3V424.3M104.5 398.3V399.9M107.5 406.4V410.2M108.5 408.4V410.6M109.5 416.9V422.3M111.5 420.5V427.0M112.5 419.4V423.4M114.5 429.1V432.3M115.5 438.9V449.4M116.5 442.3V445.2M117.5 445.3V449.0M118.5 443.2V448.9M120.5 438.3V442.5M121.5 441.2V442.7M123.5 444.1V446.4M124.5 444.4V448.5M126.5 447.7V452.6M128.5 447.9V451.7M132.5 429.4V431.6M134.5 432.1V433.2M135.5 430.4V434.0M136.5 434.4V436.1M139.5 437.0V440.5M140.5 443.9V445.2M141.5 445.2V448.4M142.5 443.0V445.3M143.5 445.6V446.6M146.5 436.9V439.5M147.5 436.7V440.8M149.5 444.5V447.1M153.5 448.2V453.9M154.5 456.0V460.0M155.5 455.4V457.2M158.5 451.9V456.7M159.5 452.5V454.4M160.5 452.5V454.4M161.5 449.7V450.8M165.5 441.0V443.3M168.5 442.9V445.7M169.5 443.1V445.3M170.5 444.1V445.6M172.5 436.5V439.5M173.5 436.0V440.9M174.5 438.3V439.6M175.5 440.6V442.8M177.5 443.4V447.3M179.5 442.4V443.6M181.5 438.3V442.4M182.5 439.4V441.3M183.5 440.0V442.1M184.5 440.3V442.0M186.5 440.6V445.0M191.5 438.1V440.7M194.5 443.4V446.9M195.5 444.9V446.1M197.5 447.5V451.4M200.5 442.9V444.1M201.5 441.8V444.0M202.5 442.3V443.2M203.5 440.4V442.2M204.5 441.4V442.8M205.5 443.0V445.0M206.5 444.9V446.3M208.5 447.2V450.2M209.5 451.1V452.9M210.5 452.9V456.4M211.5 456.3V460.0M214.5 441.4V443.4M216.5 439.9V441.8M219.5 433.9V435.3M222.5 431.6V433.4M223.5 430.7V434.3M224.5 433.5V435.1M226.5 435.9V437.8M227.5 435.9V439.8M230.5 445.0V446.5M232.5 446.7V448.2M233.5 448.7V449.7M234.5 452.3V454.7M235.5 454.0V455.7M236.5 454.6V458.5M237.5 458.7V460.3M238.5 459.3V461.7M239.5 457.9V459.4M242.5 455.5V458.4M247.5 445.0V447.9M248.5 447.5V448.5M250.5 447.2V449.0M252.5 446.8V449.6M253.5 447.1V448.7M254.5 447.7V448.8M257.5 438.0V439.5M259.5 436.7V438.4M260.5 437.9V439.7M261.5 438.0V439.3M262.5 440.9V443.7M264.5 429.3V436.4M266.5 432.4V437.2M268.5 440.2V443.1M269.5 440.2V441.5M270.5 431.7V435.9M271.5 434.5V440.5M275.5 436.9V438.5M276.5 437.0V440.3M278.5 440.6V444.8M279.5 440.0V445.3M281.5 446.2V449.3M287.5 434.6V436.9M290.5 421.1V424.8M291.5 421.4V424.6M293.5 422.6V425.4M294.5 414.8V417.6M295.5 392.3V397.5M296.5 397.3V404.4M299.5 420.2V422.8M300.5 429.7V436.4M302.5 432.0V438.2M303.5 439.2V446.2M308.5 434.1V437.5M312.5 435.3V439.7M314.5 429.8V432.4M315.5 434.8V437.9M318.5 457.8V466.6M319.5 462.3V465.1M320.5 458.5V461.6M322.5 460.0V463.9M324.5 466.8V473.4M327.5 473.1V475.1M328.5 471.5V476.7M329.5 465.8V476.2M330.5 471.3V472.9M332.5 464.1V465.4M333.5 464.1V465.2M335.5 463.5V464.9M337.5 458.9V463.2M338.5 463.3V465.6M339.5 466.1V469.8M340.5 468.4V469.9M341.5 471.0V473.4M343.5 475.2V476.9M344.5 478.2V480.7M347.5 472.2V480.2M348.5 475.4V476.8M349.5 477.3V481.3M352.5 484.4V487.5M353.5 489.5V493.8M355.5 486.6V490.9M356.5 489.7V491.2M357.5 488.5V493.1M359.5 495.0V498.7M360.5 496.3V499.6M361.5 499.7V500.8M362.5 499.6V504.1M367.5 495.4V498.1M368.5 493.1V497.1M370.5 496.5V498.2M375.5 488.6V491.6M378.5 493.2V496.6M380.5 498.6V501.6M381.5 499.6V502.9M382.5 504.7V506.1M383.5 505.8V509.3M385.5 503.1V508.0M388.5 505.7V507.6M389.5 506.4V509.6M390.5 516.1V523.9M391.5 526.8V528.9M393.5 515.0V517.2M394.5 516.9V518.1M403.5 504.5V505.8M404.5 504.7V508.7M405.5 503.3V504.7M407.5 502.7V504.3M411.5 500.4V501.9M412.5 502.6V507.6M416.5 497.9V499.1M417.5 499.3V501.4M419.5 503.1V504.0M420.5 504.4V507.3M421.5 503.9V505.4M422.5 502.2V504.0M423.5 508.8V509.8M426.5 513.1V514.0M427.5 514.3V517.3M428.5 515.1V515.9M429.5 516.1V519.3M430.5 514.4V516.0M431.5 513.0V515.0M433.5 516.9V519.7M434.5 519.3V520.9M436.5 523.4V524.8M437.5 523.9V526.3M438.5 526.5V528.0M439.5 528.7V531.0M440.5 531.8V533.7M441.5 536.3V537.9M442.5 537.8V541.1M446.5 532.6V533.7M447.5 535.8V540.8M451.5 544.4V546.9M452.5 546.4V549.5M454.5 549.6V551.9M456.5 554.5V556.7M458.5 552.8V555.3M459.5 552.0V553.3M464.5 551.2V553.0M465.5 545.5V547.5M466.5 535.6V538.2M468.5 530.4V531.7M471.5 514.2V517.8M473.5 513.6V514.7M474.5 514.9V516.3M478.5 513.8V514.9M479.5 513.7V516.6M481.5 516.4V517.6M482.5 516.9V518.8M484.5 513.5V516.5M487.5 522.8V526.3M490.5 524.6V526.6M491.5 526.5V527.6M492.5 528.1V530.2M494.5 526.9V528.8M495.5 526.5V527.9M497.5 518.2V522.6M502.5 500.3V501.6M505.5 497.0V499.0M506.5 488.5V493.7M507.5 489.6V491.0M508.5 489.4V491.9M510.5 488.9V491.6M513.5 485.1V488.1M520.5 491.6V497.7M521.5 496.3V497.2M522.5 497.2V501.1M523.5 499.3V500.6M524.5 499.6V501.6M526.5 499.2V503.1M527.5 498.7V500.2M528.5 499.1V502.0M531.5 498.0V499.1M532.5 497.8V499.5M533.5 499.5V500.8M534.5 501.4V502.8M535.5 503.1V505.3M537.5 499.2V501.7M538.5 494.1V495.5M539.5 488.0V493.1M540.5 488.8V490.4M542.5 490.6V492.7M546.5 491.5V494.2M547.5 492.7V494.3M548.5 494.9V497.2M549.5 500.9V503.2M550.5 500.4V502.0M552.5 500.9V502.3M553.5 501.5V503.8M555.5 499.8V503.0M557.5 501.5V507.0M559.5 510.9V513.8M563.5 509.8V511.1M564.5 509.1V511.0M566.5 508.5V510.5M570.5 497.3V502.1M571.5 499.1V504.6M573.5 492.6V493.9M574.5 494.3V495.7M576.5 472.1V480.1M579.5 474.8V476.5M581.5 477.9V481.8M582.5 477.1V479.9M587.5 464.2V465.6M588.5 464.4V467.8M590.5 468.7V471.5M592.5 473.4V475.1M594.5 473.3V475.5M595.5 473.7V475.3M596.5 473.2V474.3M597.5 472.6V475.2M598.5 474.4V475.9M599.5 476.9V479.1M606.5 468.5V471.5M607.5 479.5V482.6M611.5 476.3V478.1M612.5 477.7V479.1M614.5 483.2V485.3M615.5 484.3V487.4M617.5 485.2V486.7M618.5 488.2V489.7M620.5 492.8V494.0M623.5 493.7V494.9M624.5 494.8V496.0M629.5 488.1V489.6M631.5 487.3V488.7M635.5 496.4V499.3M638.5 495.2V496.6M640.5 495.9V497.3M642.5 501.8V503.0M644.5 503.9V505.7M645.5 505.6V506.6M646.5 506.0V507.8M649.5 503.2V505.4M654.5 496.6V498.3M658.5 493.2V498.2M659.5 491.7V494.8M661.5 494.3V496.2M662.5 494.9V497.8M663.5 496.4V502.2M665.5 501.2V503.3M666.5 504.1V506.6M671.5 491.0V492.5M676.5 478.4V479.7M678.5 479.3V480.2M680.5 480.5V482.0M681.5 481.1V483.2M683.5 479.7V482.2M685.5 482.9V485.8M686.5 483.8V486.2M692.5 471.0V474.4M695.5 472.4V475.2M697.5 468.0V470.0M700.5 471.4V472.6M701.5 474.0V476.5M704.5 473.4V475.5M706.5 474.8V476.6M709.5 473.0V477.3M711.5 448.8V451.4M712.5 448.0V450.4M715.5 443.5V444.8M718.5 449.5V451.5M722.5 414.1V421.4M723.5 417.9V419.4M724.5 413.9V418.9M726.5 419.3V422.0M728.5 426.6V428.3M732.5 416.4V420.8M733.5 420.1V422.9M734.5 405.2V412.4M736.5 405.2V408.3M737.5 391.7V399.3M741.5 391.5V393.5M742.5 394.0V398.7M743.5 396.3V403.2M744.5 406.8V410.8M747.5 395.5V397.7M748.5 398.0V400.8M752.5 395.6V396.7M753.5 387.3V398.4M754.5 392.4V394.4M756.5 383.9V389.0M757.5 389.8V391.5M758.5 388.0V392.5M759.5 391.8V394.0M760.5 394.1V400.2M761.5 399.9V401.0M762.5 415.4V423.3M763.5 419.3V422.9M764.5 414.8V416.3M769.5 406.4V410.6M770.5 399.0V400.7M771.5 396.8V400.5M776.5 375.0V380.9M780.5 371.0V374.0M783.5 359.2V362.2M784.5 365.0V366.2M785.5 367.6V373.7M786.5 372.2V380.5M788.5 365.5V374.2M792.5 340.9V345.7M793.5 329.4V335.6M794.5 331.1V332.9M796.5 313.3V319.6M797.5 321.6V331.5M799.5 333.5V341.3M802.5 326.8V334.3M806.5 297.1V309.9M807.5 300.2V313.0M812.5 331.1V333.5M813.5 324.2V340.5M814.5 338.8V344.6M815.5 343.0V346.1M818.5 360.6V371.1M821.5 347.9V357.7M822.5 376.0V396.4M828.5 336.5V337.9M831.5 330.8V335.4M832.5 331.8V334.7M833.5 335.8V344.7M834.5 334.4V339.3M835.5 335.1V341.2M842.5 357.1V358.3M847.5 336.7V337.7M848.5 339.3V343.4M852.5 313.7V318.5M853.5 301.2V308.5M854.5 315.4V322.7M855.5 323.3V324.8M857.5 317.8V325.4M864.5 293.6V307.0M865.5 260.6V270.7M867.5 273.7V275.6M868.5 280.2V285.2M872.5 279.9V286.9M874.5 294.2V295.9M876.5 286.7V293.8M878.5 273.8V281.6M879.5 281.7V286.5M881.5 297.8V302.2M882.5 299.7V302.0M883.5 304.5V310.5M885.5 298.4V307.7M886.5 298.3V302.9M887.5 297.3V303.4M889.5 315.3V321.4M894.5 275.1V276.0M895.5 273.1V278.7M896.5 285.2V295.7M901.5 274.3V287.8M902.5 287.4V294.1M905.5 269.0V274.4M906.5 271.5V278.2M911.5 238.7V261.8M914.5 268.6V279.3M916.5 244.1V256.3M917.5 239.7V247.7M920.5 232.7V236.4M921.5 273.9V294.7M925.5 266.6V280.7M926.5 260.6V265.2M927.5 257.9V264.6M928.5 256.6V263.5M929.5 263.9V265.7M930.5 266.4V270.4M932.5 267.7V275.9M933.5 273.0V278.6M934.5 278.2V279.9M935.5 279.0V283.2M936.5 284.1V292.9M937.5 291.5V293.2M938.5 290.2V298.6M939.5 302.1V311.4M940.5 318.5V330.5M942.5 318.9V324.0M949.5 331.5V336.8M950.5 329.6V332.5M951.5 325.3V330.3M954.5 323.2V329.5M955.5 338.8V342.9M959.5 355.8V361.9M961.5 382.6V402.7M966.5 365.7V369.0M968.5 374.2V383.5M969.5 378.2V383.8M972.5 350.4V356.7M974.5 348.9V353.6M977.5 331.5V334.4M978.5 328.0V332.0M980.5 303.7V308.9M982.5 294.5V296.6M987.5 291.3V292.8M989.5 288.3V290.1M991.5 286.0V290.9M992.5 286.4V292.5M994.5 269.8V277.0M999.5 250.9V259.3M1002.5 249.5V252.4M1003.5 250.4V257.0M1006.5 229.3V231.7M1010.5 205.1V208.4M1011.5 218.1V223.2M1012.5 218.8V221.5M1014.5 218.4V219.7M1020.5 207.8V215.9M1022.5 194.5V195.5M1024.5 193.0V198.3M1026.5 188.3V197.5M1027.5 204.1V210.4M1035.5 199.6V203.8M1036.5 198.8V212.2M1037.5 222.6V226.2M1039.5 215.7V219.6M1040.5 204.7V208.8M1041.5 203.0V204.0M1043.5 213.9V217.9M1046.5 193.5V202.0M1049.5 152.9V160.4M1050.5 159.9V162.0M1051.5 156.5V159.7M1055.5 137.0V153.4M1057.5 118.5V124.1M1058.5 130.1V139.1M1059.5 121.9V126.8M1065.5 79.4V90.6M1067.5 89.2V105.5" stroke="#e8342c" stroke-width="0.9" fill="none"/>
<path d="M822.5 366V382" stroke="#3a4b57" stroke-width="0.9"/>
<path d="M822.5 382V411" stroke="#12b57f" stroke-width="0.9"/>
<path d="M939.5 290V314" stroke="#e8342c" stroke-width="0.9"/>
<path d="M1067.5 83V120" stroke="#e8342c" stroke-width="0.9"/>
<path d="M1064.5 67.5V85" stroke="#e8342c" stroke-width="0.9"/>
<path d="M1070.5 59V76" stroke="#e8342c" stroke-width="0.9"/>
<path d="M1070.5 76V88" stroke="#3a4b57" stroke-width="0.9"/>
<path d="M961.5 371V377" stroke="#3a4b57" stroke-width="0.9"/>
<path d="M961.5 377V394" stroke="#e8342c" stroke-width="0.9"/>
<path d="M961.5 394V406" stroke="#12b57f" stroke-width="0.9"/>
<path d="M962.5 358.5V372" stroke="#12b57f" stroke-width="0.9"/>
<path d="M962.5 372V392" stroke="#e8342c" stroke-width="0.9"/>
<path d="M962.5 392V403" stroke="#12b57f" stroke-width="0.9"/>
<path d="M1048.5 171V179" stroke="#3a4b57" stroke-width="0.9"/>
<path d="M1048.5 179V186.5" stroke="#12b57f" stroke-width="0.9"/>
<path d="M865.5 253.6V268" stroke="#3a4b57" stroke-width="0.9"/>
<path d="M865.5 268V274.6" stroke="#12b57f" stroke-width="0.9"/>
<path d="M921.5 266.5V303.5" stroke="#3a4b57" stroke-width="0.9"/>
<path d="M910.5 236V252" stroke="#e8342c" stroke-width="0.9"/>
<path d="M911.5 237.5V257" stroke="#e8342c" stroke-width="0.9"/>
<path d="M911.5 257V271" stroke="#3a4b57" stroke-width="0.9"/>
<path d="M916.5 236V240" stroke="#3a4b57" stroke-width="0.9"/>
<path d="M916.5 240V256" stroke="#e8342c" stroke-width="0.9"/>
<path d="M739.5 362V371" stroke="#3a4b57" stroke-width="0.9"/>
<path d="M739.5 371V386" stroke="#e8342c" stroke-width="0.9"/>
<path d="M739.5 386V392" stroke="#3a4b57" stroke-width="0.9"/>
<path d="M1004.5 239V250" stroke="#12b57f" stroke-width="0.9"/>
<path d="M1004.5 250V262" stroke="#e8342c" stroke-width="0.9"/>
<path d="M1004.5 262V267" stroke="#3a4b57" stroke-width="0.9"/>
<rect x="974" y="186.5" width="127.5" height="9" rx="1.5" fill="#10b37c" fill-opacity="0.5" stroke="#35c193" stroke-width="1.5"/>
<rect x="881" y="225.8" width="222.5" height="10.4" rx="1.5" fill="#10b37c" fill-opacity="0.5" stroke="#35c193" stroke-width="1.5"/>
<path d="M0.0 564.0C2.1 563.4 6.0 562.7 12.5 560.5C19.0 558.3 31.4 553.8 39.0 551.0C46.6 548.2 51.5 546.7 58.0 543.5C64.5 540.3 74.2 534.2 78.0 532.0C81.8 529.8 78.0 532.5 81.0 530.0C84.0 527.5 92.2 520.5 96.0 516.8C99.8 513.1 100.9 511.0 104.0 508.0C107.1 505.0 111.1 501.6 114.5 498.7C117.9 495.8 120.7 493.5 124.6 490.5C128.5 487.5 133.5 483.6 137.7 480.6C141.9 477.6 146.1 474.9 150.0 472.6C153.9 470.3 157.1 468.9 161.4 466.9C165.7 464.9 171.2 462.6 176.0 460.4C180.8 458.2 185.6 455.7 190.4 453.8C195.2 451.9 201.0 450.2 205.0 448.8C209.0 447.4 210.5 446.5 214.5 445.2C218.5 443.9 224.2 441.9 229.0 440.9C233.8 439.9 239.9 439.6 243.5 439.4C247.1 439.2 248.3 439.2 250.7 439.6C253.1 440.0 254.4 440.9 258.0 441.6C261.6 442.3 267.7 443.5 272.5 443.8C277.3 444.1 282.2 443.8 287.0 443.5C291.8 443.2 296.6 442.4 301.4 442.0C306.2 441.6 312.4 441.0 316.0 440.9C319.6 440.8 320.6 441.1 323.0 441.5C325.4 441.9 326.7 442.3 330.4 443.0C334.1 443.7 339.9 444.3 345.0 445.5C350.1 446.7 354.9 448.4 360.7 450.0C366.5 451.6 373.6 452.9 379.6 455.1C385.7 457.3 391.7 461.2 397.0 463.1C402.3 465.0 406.6 465.2 411.4 466.7C416.2 468.1 421.2 469.6 426.0 471.8C430.8 474.0 437.3 478.3 440.4 479.8C443.5 481.3 441.9 479.3 444.5 480.8C447.1 482.3 452.9 486.3 456.0 488.8C459.1 491.3 460.4 493.8 463.3 496.0C466.2 498.2 469.4 499.9 473.5 501.8C477.6 503.7 483.2 505.8 488.0 507.6C492.8 509.4 497.7 511.7 502.5 512.7C507.3 513.7 509.8 513.5 517.0 513.7C524.2 513.9 538.8 513.8 546.0 513.7C553.2 513.6 554.8 513.3 560.4 513.1C566.0 512.9 573.9 513.2 579.5 512.5C585.1 511.8 589.2 510.2 594.0 508.9C598.8 507.6 603.7 506.3 608.5 504.6C613.3 502.9 618.9 500.4 623.0 498.9C627.1 497.4 628.2 496.8 633.0 495.8C637.8 494.8 646.4 493.6 652.0 493.0C657.6 492.4 661.6 492.3 666.4 492.0C671.2 491.7 676.2 491.6 681.0 491.2C685.8 490.8 690.6 489.9 695.4 489.3C700.2 488.7 705.6 488.4 710.0 487.5C714.4 486.6 717.3 485.8 721.7 483.8C726.1 481.9 731.4 478.3 736.2 475.8C741.0 473.3 746.6 470.6 750.7 468.6C754.8 466.6 757.3 465.5 760.9 463.9C764.5 462.3 769.1 460.9 772.5 459.1C775.9 457.3 778.3 455.2 781.2 453.3C784.1 451.4 787.0 449.8 789.9 447.5C792.8 445.2 795.7 442.5 798.6 439.6C801.5 436.7 804.3 433.3 807.2 430.0C810.1 426.7 813.5 422.6 816.0 420.0C818.5 417.4 818.8 417.7 822.3 414.6C825.8 411.6 832.2 405.9 836.8 401.7C841.4 397.5 846.1 393.2 850.0 389.6C853.9 386.0 856.0 384.1 860.1 379.8C864.2 375.5 870.3 368.0 874.6 363.7C878.9 359.4 881.9 357.2 885.9 354.0C889.9 350.8 894.8 347.5 898.8 344.4C902.8 341.3 906.5 338.4 910.0 335.5C913.5 332.6 917.5 328.6 920.0 326.7C922.5 324.8 923.0 325.6 925.0 324.0C927.0 322.4 929.7 319.0 932.0 317.0C934.3 315.0 936.8 313.2 939.0 312.0C941.2 310.8 942.7 310.6 945.0 310.0C947.3 309.4 950.5 308.7 953.0 308.5C955.5 308.3 957.7 308.6 960.0 309.0C962.3 309.4 964.7 310.3 967.0 311.0C969.3 311.7 971.8 312.7 974.0 313.0C976.2 313.3 977.8 313.5 980.0 313.0C982.2 312.5 984.5 311.0 987.0 310.0C989.5 309.0 992.3 308.2 995.0 307.0C997.7 305.8 1000.5 304.5 1003.0 303.0C1005.5 301.5 1007.7 299.6 1010.0 298.0C1012.3 296.4 1015.0 294.8 1017.0 293.5C1019.0 292.2 1019.8 291.7 1022.0 290.0C1024.2 288.3 1027.0 285.2 1030.0 283.4C1033.0 281.6 1037.0 280.6 1040.0 279.4C1043.0 278.1 1045.6 277.3 1047.9 275.9C1050.2 274.5 1051.9 272.7 1053.9 270.9C1055.9 269.1 1057.8 267.1 1059.8 264.9C1061.8 262.7 1064.0 260.0 1065.8 257.9C1067.6 255.7 1070.0 253.0 1070.8 252.0" stroke="#e12a26" stroke-width="2" fill="none" stroke-linejoin="round"/>
<g clip-path="url(#cc)"><path d="M955 337L1097.3 12M950.8 433.1L1099.5 94.5" stroke="#2b3595" stroke-width="2.3" fill="none"/></g>
<path d="M0 81.5H1137" stroke="#808b91"/>
</svg>
<div class="yl" style="top:42.3px">316.17</div><div class="yl" style="top:79.3px">297.57</div><div class="yl" style="top:116.3px">278.98</div><div class="yl" style="top:153.3px">260.39</div><div class="yl" style="top:190.3px">241.80</div><div class="yl" style="top:227.3px">223.21</div><div class="yl" style="top:264.3px">204.62</div><div class="yl" style="top:301.3px">186.03</div><div class="yl" style="top:337.3px">167.44</div><div class="yl" style="top:374.3px">148.85</div><div class="yl" style="top:411.3px">130.26</div><div class="yl" style="top:448.3px">111.66</div><div class="yl" style="top:485.3px">93.07</div><div class="yl" style="top:522.3px">74.48</div><div class="yl" style="top:559.3px">55.89</div><div class="yl" style="top:591.4px">37.30</div>
<svg class="abs" style="left:1130px;top:70px" width="70" height="24" viewBox="1130 70 70 24"><path d="M1136 81.5L1144.5 73H1196V90H1144.5Z" fill="#86949b"/></svg>
<div class="tag">300.11</div>
<div class="xl" style="left:-5px">04.08.2020</div><div class="xl" style="left:138.1px">13.04.2021</div><div class="xl" style="left:280.1px">16.12.2021</div><div class="xl" style="left:423.1px">25.08.2022</div><div class="xl" style="left:565.1px">04.05.2023</div><div class="xl" style="left:707.1px">11.01.2024</div><div class="xl" style="left:850.1px">19.09.2024</div><div class="xl" style="left:992.1px">30.05.2025</div><div class="xl" style="left:1134.2px;letter-spacing:0.5px">31.12.2025</div>
<div class="abs" style="left:12px;top:6.4px;font-size:12px;line-height:15px;font-weight:bold;letter-spacing:-0.25px;color:#2b3d4a;">TSM.US</div>
<div class="abs" style="left:60px;top:8.7px;font-size:9px;line-height:11px;letter-spacing:-0.1px;color:#7d7d7d;">Aktie</div>
<svg class="abs" style="left:0;top:0" width="400" height="52" viewBox="0 0 400 52">
<path d="M88 10.3h8.4l-4.2 4.4z" fill="#7a7a7a"/>
<circle cx="114" cy="13" r="6" fill="#8a8a8a"/>
<path d="M112.6 10.2h2.6v1.9h-2.6zM112.2 12.6h3v2.6h0.7v1.3h-4.2v-1.3h0.8v-1.3h-0.8z" fill="#fff"/>
<rect x="132.5" y="5.5" width="43" height="15" rx="2" fill="#fff" stroke="#d9d9d9"/>
<path d="M164.4 11h7.6l-3.8 4z" fill="#7a7a7a"/>
<rect x="12" y="29" width="39" height="16" rx="2" fill="#e7e7e7"/>
<rect x="55.5" y="29.5" width="159" height="15.5" rx="1.5" fill="#fff" stroke="#dcdcdc"/>
<path d="M71.5 29.5v15.5M198.5 29.5v15.5" stroke="#dcdcdc"/>
<path d="M59.5 37h6.6" stroke="#555" stroke-width="1.4"/>
<path d="M203 37h7M206.5 33.5v7" stroke="#555" stroke-width="1.3"/>
<!-- swap icon -->
<g transform="translate(0,0.8)"><g fill="none" stroke="#222" stroke-width="1.4" stroke-linejoin="round">
<path d="M178.2 36.5v-1.4q0-1 1-1h6"/>
<path d="M186.3 37.3v1.4q0 1-1 1h-6"/>
</g>
<path d="M184 31.6l2.8 2.5-2.8 2.5z" fill="#222"/>
<path d="M180.5 37.2l-2.8 2.5 2.8 2.5z" fill="#222"/></g>
<rect x="219" y="29" width="38" height="16" rx="2.5" fill="#04b47c"/>
<!-- candle icon -->
<g stroke="#4a5b66" fill="#fff" stroke-width="1">
<path d="M266.5 30.2v12.4M270.5 32.5v11.3M274.5 31.1v9.6" fill="none"/>
<rect x="265.3" y="32.2" width="2.4" height="6.6"/>
<rect x="269.3" y="35.8" width="2.4" height="4.8"/>
<rect x="273.3" y="34" width="2.4" height="4"/>
</g>
<path d="M279.8 43.2v2.6h-2.8z" fill="#111"/>
<!-- zoom out -->
<g stroke="#55656f" fill="none" stroke-width="1.1">
<circle cx="293.4" cy="35.5" r="5"/>
<path d="M297 39.3l4.2 4.4M291 35.5h4.9"/>
<circle cx="317.4" cy="35.5" r="5"/>
<path d="M321 39.3l4.2 4.4M315 35.5h4.9M317.45 33v5"/>
</g>
<!-- move -->
<g stroke="#55656f" fill="none" stroke-width="1">
<path d="M337.5 37.5h12.5M343.5 31.5v12"/>
</g>
<path d="M336.6 37.5l2.4-1.8v3.6zM350.6 37.5l-2.4-1.8v3.6zM343.5 30.6l-1.8 2.4h3.6zM343.5 44.4l-1.8-2.4h3.6z" fill="#55656f"/>
<path d="M353 43.2v2.6h-2.8z" fill="#111"/>
</svg>
<div class="abs" style="left:137px;top:7px;font-size:10px;line-height:14px;letter-spacing:-0.6px;color:#3f5360;">D1</div>
<div class="abs" style="left:12px;top:30.5px;width:39px;text-align:center;font-size:10px;line-height:15px;color:#fff;">300.11</div>
<div class="abs" style="left:98px;top:30.5px;font-size:10px;line-height:15px;color:#1f1f1f;"><b>19.14</b><span style="letter-spacing:-0.95px;margin-left:3px">EUR</span></div>
<div class="abs" style="left:219px;top:30.5px;width:38px;text-align:center;font-size:10px;line-height:15px;color:#fff;-webkit-text-stroke:0.3px #fff;">300.30</div>
<!-- SMA legend -->
<svg class="abs" style="left:0;top:586px" width="24" height="14" viewBox="0 0 24 14">
<path d="M0 3.2h8v2.4h-8zM0 6.6h8v2.2h-8zM0 10h8v1.8h-8z" fill="#b0b0b0"/>
<path d="M12.7 4.6l6.2 6.4M18.9 4.6l-6.2 6.4" stroke="#a6a6a6" stroke-width="2.2"/>
</svg>
<div class="abs" style="left:22.7px;top:589.2px;font-size:9.5px;line-height:12px;letter-spacing:0.6px;color:#666;">SMA [200, 0] 213.65</div>
<div class="abs" style="left:1081.6px;top:574.2px;font-size:14px;line-height:16px;letter-spacing:0.6px;color:#ff8f17;">12<span style="color:#b4bcc1">h</span> 50<span style="color:#b4bcc1">m</span></div>

</body></html>
